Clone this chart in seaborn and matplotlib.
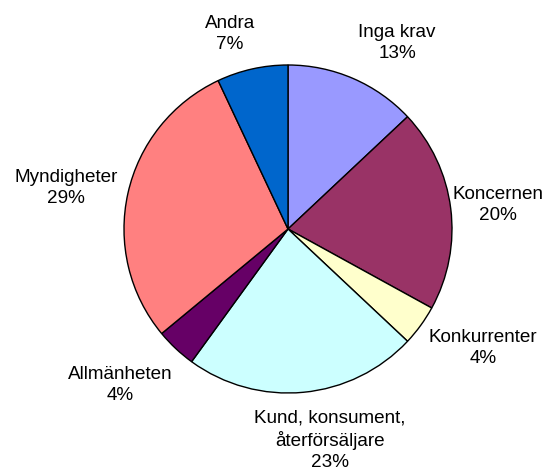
import matplotlib
matplotlib.use("Agg")
import matplotlib.pyplot as plt
import seaborn as sns

# data
categories = ["Inga krav", "Koncernen", "Konkurrenter", "Kund, konsument,\nåterförsäljare",
              "Allmänheten", "Myndigheter", "Andra"]
shares = [13, 20, 4, 23, 4, 29, 7]
colors = ["#9999FF", "#993366", "#FFFFCC", "#CCFFFF", "#660066", "#FF8080", "#0066CC"]

# label placement (pixels from top-left of the figure)
label_pos = [(397, 43), (498, 205), (483, 348), (330, 440), (120, 385), (66, 188), (230, 34)]

sns.set_style("white")
plt.rcParams['font.family'] = ['Liberation Sans', 'DejaVu Sans']

W, H = 555, 475
fig = plt.figure(figsize=(W / 100, H / 100), dpi=100)
ax = fig.add_axes([0, 0, 1, 1])

ax.pie(shares, colors=colors, startangle=90, counterclock=False,
       center=(288, H - 229), radius=164, frame=True,
       wedgeprops=dict(edgecolor="black", linewidth=1))
ax.set_xlim(0, W)
ax.set_ylim(0, H)
ax.set_aspect("equal")
ax.axis("off")

for name, v, (x, y) in zip(categories, shares, label_pos):
    ax.text(x, H - y, f"{name}\n{v}%", ha="center", va="center", fontsize=13.6,
            linespacing=1.32, color="black")

fig.savefig("out.png", dpi=100)
